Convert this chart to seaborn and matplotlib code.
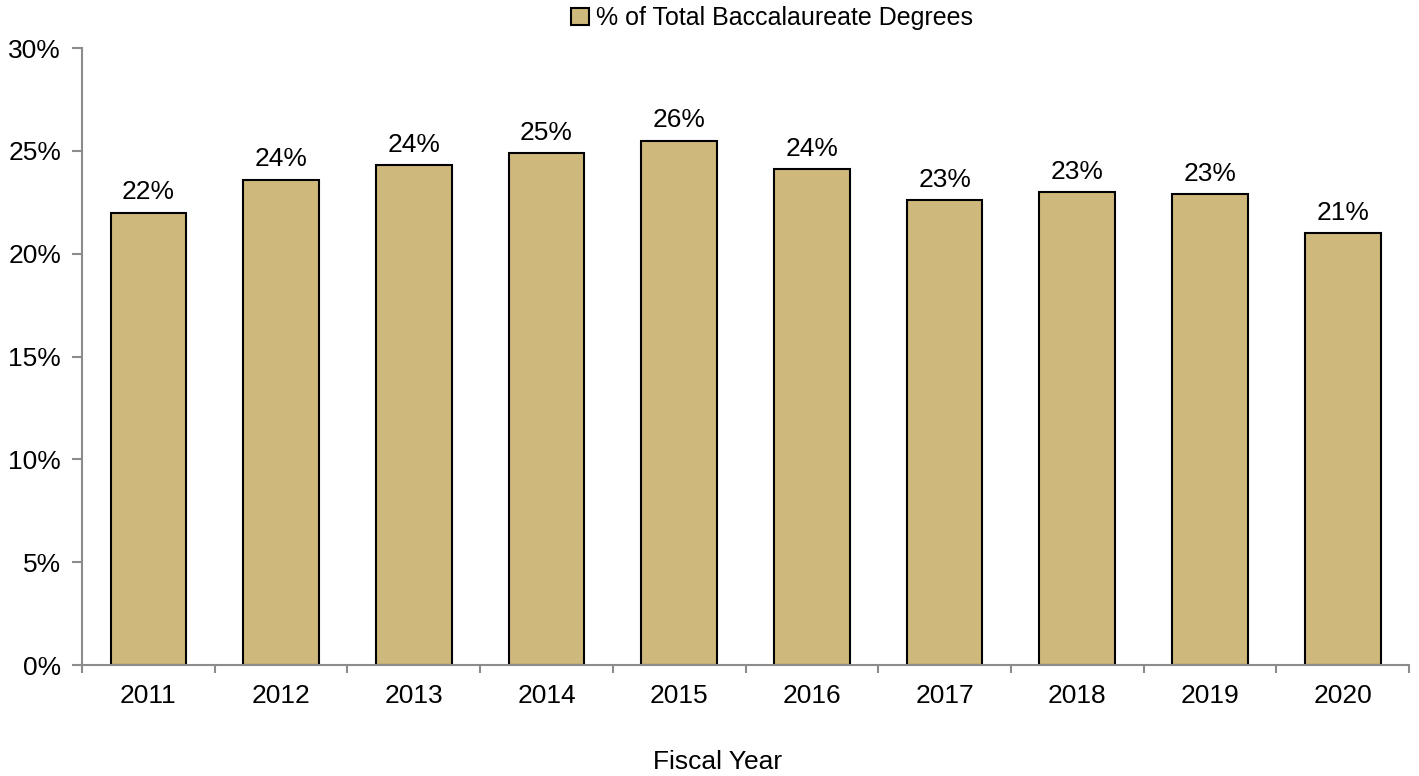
import numpy as np
import pandas as pd
import seaborn as sns
import matplotlib.pyplot as plt
from matplotlib.ticker import PercentFormatter, FixedLocator

years = ['2011', '2012', '2013', '2014', '2015', '2016', '2017', '2018', '2019', '2020']
pct_values = [22.0, 23.6, 24.3, 24.9, 25.5, 24.1, 22.6, 23.0, 22.9, 21.0]
bar_labels = ['22%', '24%', '24%', '25%', '26%', '24%', '23%', '23%', '23%', '21%']
series_name = '% of Total Baccalaureate Degrees'

df = pd.DataFrame({'Fiscal Year': years, 'pct': pct_values})

sns.set_style('white')
plt.rcParams['font.family'] = ['Liberation Sans', 'DejaVu Sans']
plt.rcParams['text.color'] = 'black'
plt.rcParams['xtick.color'] = 'black'
plt.rcParams['ytick.color'] = 'black'
plt.rcParams['axes.labelcolor'] = 'black'

fig = plt.figure(figsize=(14.19, 7.76), dpi=100)
ax = fig.add_axes([0.0578, 0.143, 0.9352, 0.795])

gold = '#CFB87C'
sns.barplot(data=df, x='Fiscal Year', y='pct', color=gold, edgecolor='black',
            linewidth=1.5, width=0.57, saturation=1, label=series_name, ax=ax)

ax.bar_label(ax.containers[0], labels=bar_labels, padding=6, fontsize=19)

ax.set_xlim(-0.5, len(years) - 0.5)
ax.set_ylim(0, 30)
ax.yaxis.set_major_locator(FixedLocator([0, 5, 10, 15, 20, 25, 30]))
ax.yaxis.set_major_formatter(PercentFormatter(decimals=0))

# x tick marks sit between categories
ax.xaxis.set_minor_locator(FixedLocator(np.arange(-0.5, len(years), 1.0)))
ax.tick_params(axis='x', which='major', length=0, labelsize=19, pad=14)
ax.tick_params(axis='x', which='minor', length=6, width=1.5, color='#8c8c8c', direction='out', bottom=True)
ax.tick_params(axis='y', which='major', length=7, width=1.5, color='#8c8c8c', direction='out', left=True, labelsize=19, pad=8)

for side in ['top', 'right']:
    ax.spines[side].set_visible(False)
for side in ['left', 'bottom']:
    ax.spines[side].set_color('#8c8c8c')
    ax.spines[side].set_linewidth(1.5)

ax.set_xlabel('Fiscal Year', fontsize=19, labelpad=30, x=0.479)
ax.set_ylabel('')

ax.legend(loc='lower center', bbox_to_anchor=(0.52, 1.005), frameon=False, fontsize=18,
          handlelength=0.7, handleheight=0.7, handletextpad=0.3, borderaxespad=0.2)

fig.savefig('out.png', dpi=100)
